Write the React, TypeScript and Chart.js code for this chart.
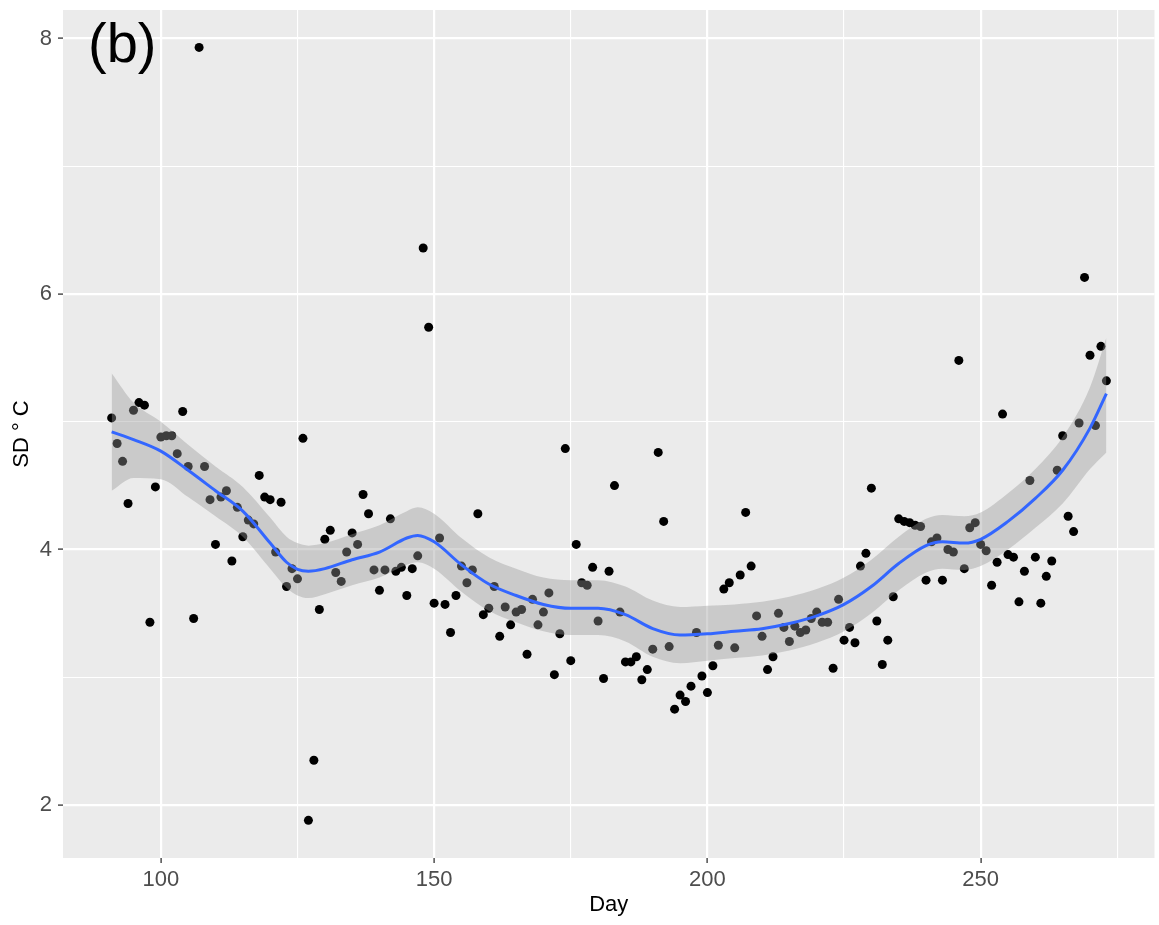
import React, { useEffect, useRef } from "react";
import { Chart, registerables } from "chart.js";

Chart.register(...registerables);

// Observed daily SD values
const days = [
  91, 92, 93, 94, 95, 96, 97, 98, 99, 100, 101, 102, 103, 104, 105, 106, 107, 108, 109, 110,
  111, 112, 113, 114, 115, 116, 117, 118, 119, 120, 121, 122, 123, 124, 125, 126, 127, 128, 129, 130,
  131, 132, 133, 134, 135, 136, 137, 138, 139, 140, 141, 142, 143, 144, 145, 146, 147, 148, 149, 150,
  151, 152, 153, 154, 155, 156, 157, 158, 159, 160, 161, 162, 163, 164, 165, 166, 167, 168, 169, 170,
  171, 172, 173, 174, 175, 176, 177, 178, 179, 180, 181, 182, 183, 184, 185, 186, 187, 188, 189, 190,
  191, 192, 193, 194, 195, 196, 197, 198, 199, 200, 201, 202, 203, 204, 205, 206, 207, 208, 209, 210,
  211, 212, 213, 214, 215, 216, 217, 218, 219, 220, 221, 222, 223, 224, 225, 226, 227, 228, 229, 230,
  231, 232, 233, 234, 235, 236, 237, 238, 239, 240, 241, 242, 243, 244, 245, 246, 247, 248, 249, 250,
  251, 252, 253, 254, 255, 256, 257, 258, 259, 260, 261, 262, 263, 264, 265, 266, 267, 268, 269, 270,
  271, 272, 273,
];
const sdValues = [
  5.03, 4.83, 4.69, 4.36, 5.09, 5.15, 5.13, 3.43, 4.49, 4.88, 4.89, 4.89, 4.75, 5.08, 4.65, 3.46, 7.93, 4.65, 4.39, 4.04,
  4.41, 4.46, 3.91, 4.33, 4.10, 4.23, 4.20, 4.58, 4.41, 4.39, 3.98, 4.37, 3.71, 3.85, 3.77, 4.87, 1.88, 2.35, 3.53, 4.08,
  4.15, 3.82, 3.75, 3.98, 4.13, 4.04, 4.43, 4.28, 3.84, 3.68, 3.84, 4.24, 3.83, 3.86, 3.64, 3.85, 3.95, 6.36, 5.74, 3.58,
  4.09, 3.57, 3.35, 3.64, 3.87, 3.74, 3.84, 4.28, 3.49, 3.54, 3.71, 3.32, 3.55, 3.41, 3.51, 3.53, 3.18, 3.61, 3.41, 3.51,
  3.66, 3.02, 3.34, 4.79, 3.13, 4.04, 3.74, 3.72, 3.86, 3.44, 2.99, 3.83, 4.50, 3.51, 3.12, 3.12, 3.16, 2.98, 3.06, 3.22,
  4.76, 4.22, 3.24, 2.75, 2.86, 2.81, 2.93, 3.35, 3.01, 2.88, 3.09, 3.25, 3.69, 3.74, 3.23, 3.80, 4.29, 3.87, 3.48, 3.32,
  3.06, 3.16, 3.50, 3.39, 3.28, 3.40, 3.35, 3.37, 3.46, 3.51, 3.43, 3.43, 3.07, 3.61, 3.29, 3.39, 3.27, 3.87, 3.97, 4.48,
  3.44, 3.10, 3.29, 3.63, 4.24, 4.22, 4.21, 4.19, 4.18, 3.76, 4.06, 4.09, 3.76, 4.00, 3.98, 5.48, 3.85, 4.17, 4.21, 4.04,
  3.99, 3.72, 3.90, 5.06, 3.96, 3.94, 3.59, 3.83, 4.54, 3.94, 3.58, 3.79, 3.91, 4.62, 4.89, 4.26, 4.14, 4.99, 6.13, 5.52,
  4.97, 5.59, 5.32,
];

// Smoothed fit and its confidence band
const fitDays = [91, 95, 100, 105, 110, 115, 120, 123, 125, 127, 130, 135, 140, 145, 147, 150, 155, 160, 165, 170, 175, 180, 185, 190, 195, 200, 205, 210, 215, 220, 225, 230, 235, 240, 243, 247, 250, 255, 260, 265, 270, 273];
const fitMean = [4.92, 4.86, 4.77, 4.62, 4.46, 4.30, 4.05, 3.90, 3.845, 3.83, 3.85, 3.92, 3.98, 4.09, 4.11, 4.06, 3.88, 3.73, 3.64, 3.57, 3.54, 3.54, 3.49, 3.38, 3.33, 3.34, 3.36, 3.38, 3.42, 3.48, 3.57, 3.71, 3.89, 4.03, 4.06, 4.05, 4.08, 4.22, 4.40, 4.62, 4.95, 5.22];
const fitUpper = [5.38, 5.15, 5.00, 4.82, 4.65, 4.49, 4.25, 4.10, 4.05, 4.03, 4.05, 4.12, 4.19, 4.30, 4.33, 4.28, 4.09, 3.94, 3.85, 3.78, 3.76, 3.76, 3.71, 3.60, 3.55, 3.56, 3.57, 3.59, 3.63, 3.69, 3.78, 3.92, 4.10, 4.24, 4.27, 4.26, 4.29, 4.44, 4.63, 4.88, 5.27, 5.66];
const fitLower = [4.46, 4.56, 4.55, 4.41, 4.26, 4.10, 3.85, 3.70, 3.64, 3.62, 3.65, 3.72, 3.78, 3.88, 3.90, 3.85, 3.67, 3.52, 3.43, 3.36, 3.33, 3.33, 3.28, 3.16, 3.11, 3.13, 3.15, 3.17, 3.21, 3.27, 3.36, 3.50, 3.68, 3.82, 3.85, 3.84, 3.87, 4.00, 4.17, 4.36, 4.63, 4.76];

const xMajorTicks = [100, 150, 200, 250];
const xMinorTicks = [125, 175, 225, 275];
const yMajorTicks = [2, 4, 6, 8];
const yMinorTicks = [3, 5, 7];
const xTitle = "Day";
const yTitle = "SD \u00B0 C";
const panelLabel = "(b)";

const FONT = '"Liberation Sans", Arial, Helvetica, sans-serif';

const panelPlugin = {
  id: "panelBg",
  beforeDraw(chart: any) {
    const { ctx, chartArea: a } = chart;
    ctx.save();
    ctx.fillStyle = "#EBEBEB";
    ctx.fillRect(a.left, a.top, a.right - a.left, a.bottom - a.top);
    ctx.restore();
  },
  afterDraw(chart: any) {
    const { ctx, chartArea: a } = chart;
    ctx.save();
    ctx.font = `56px ${FONT}`;
    ctx.fillStyle = "#000";
    ctx.textBaseline = "alphabetic";
    ctx.textAlign = "left";
    ctx.fillText(panelLabel, a.left + 25, a.top + 52);
    ctx.restore();
  },
};

export default function App() {
  const canvasRef = useRef<HTMLCanvasElement | null>(null);

  useEffect(() => {
    if (!canvasRef.current) return;
    const pts = days.map((d, i) => ({ x: d, y: sdValues[i] }));
    const mean = fitDays.map((d, i) => ({ x: d, y: fitMean[i] }));
    const upper = fitDays.map((d, i) => ({ x: d, y: fitUpper[i] }));
    const lower = fitDays.map((d, i) => ({ x: d, y: fitLower[i] }));

    const gridCommon = (major: number[]) => ({
      color: "#FFFFFF",
      lineWidth: (c: any) => (c.tick && major.includes(c.tick.value) ? 2.2 : 1.1),
      tickColor: (c: any) => (c.tick && major.includes(c.tick.value) ? "#333333" : "rgba(0,0,0,0)"),
      tickWidth: 1.3,
      tickLength: 5,
      drawTicks: true,
    });

    const chart = new Chart(canvasRef.current, {
      type: "scatter",
      data: {
        datasets: [
          {
            type: "line",
            data: mean,
            borderColor: "#3366FF",
            borderWidth: 3,
            pointRadius: 0,
            fill: false,
            cubicInterpolationMode: "monotone",
            order: 0,
          } as any,
          {
            type: "line",
            data: lower,
            borderColor: "rgba(0,0,0,0)",
            borderWidth: 0,
            pointRadius: 0,
            fill: false,
            cubicInterpolationMode: "monotone",
            order: 1,
          } as any,
          {
            type: "line",
            data: upper,
            borderColor: "rgba(0,0,0,0)",
            borderWidth: 0,
            pointRadius: 0,
            fill: "-1",
            backgroundColor: "rgba(153,153,153,0.4)",
            cubicInterpolationMode: "monotone",
            order: 1,
          } as any,
          {
            data: pts,
            pointRadius: 4.5,
            pointBackgroundColor: "#000000",
            pointBorderWidth: 0,
            pointBorderColor: "rgba(0,0,0,0)",
            showLine: false,
            order: 2,
          } as any,
        ],
      },
      options: {
        animation: false,
        responsive: false,
        layout: { padding: { top: 10, right: 2, left: 0, bottom: 0 } },
        plugins: {
          legend: { display: false },
          tooltip: { enabled: false },
          filler: { drawTime: "beforeDatasetDraw" },
        } as any,
        scales: {
          x: {
            type: "linear",
            min: 82.1,
            max: 281.8,
            afterBuildTicks: (s: any) => {
              s.ticks = [...xMajorTicks, ...xMinorTicks].sort((a, b) => a - b).map((v) => ({ value: v }));
            },
            afterFit: (s: any) => {
              s.height = 67;
              s.paddingLeft = 0;
              s.paddingRight = 0;
            },
            grid: gridCommon(xMajorTicks) as any,
            border: { display: false },
            ticks: {
              autoSkip: false,
              maxRotation: 0,
              padding: 4,
              color: "#4D4D4D",
              font: { family: FONT, size: 22 },
              callback: (v: any) => (xMajorTicks.includes(Number(v)) ? String(v) : ""),
            },
            title: {
              display: true,
              text: xTitle,
              color: "#000000",
              font: { family: FONT, size: 22 },
              padding: { top: 0, bottom: 7 },
            },
          },
          y: {
            type: "linear",
            min: 1.585,
            max: 8.223,
            afterBuildTicks: (s: any) => {
              s.ticks = [...yMajorTicks, ...yMinorTicks].sort((a, b) => a - b).map((v) => ({ value: v }));
            },
            afterFit: (s: any) => {
              s.width = 63;
              s.paddingTop = 0;
              s.paddingBottom = 0;
            },
            grid: gridCommon(yMajorTicks) as any,
            border: { display: false },
            ticks: {
              autoSkip: false,
              padding: 6,
              color: "#4D4D4D",
              font: { family: FONT, size: 22 },
              callback: (v: any) => (yMajorTicks.includes(Number(v)) ? String(v) : ""),
            },
            title: {
              display: true,
              text: yTitle,
              color: "#000000",
              font: { family: FONT, size: 22 },
              padding: { top: 9, bottom: 0 },
            },
          },
        },
      } as any,
      plugins: [panelPlugin],
    });
    return () => chart.destroy();
  }, []);

  return (
    <div style={{ position: "absolute", left: 0, top: 0, width: 1159, height: 925, background: "#FFFFFF" }}>
      <canvas ref={canvasRef} width={1159} height={925} style={{ display: "block" }} />
    </div>
  );
}
